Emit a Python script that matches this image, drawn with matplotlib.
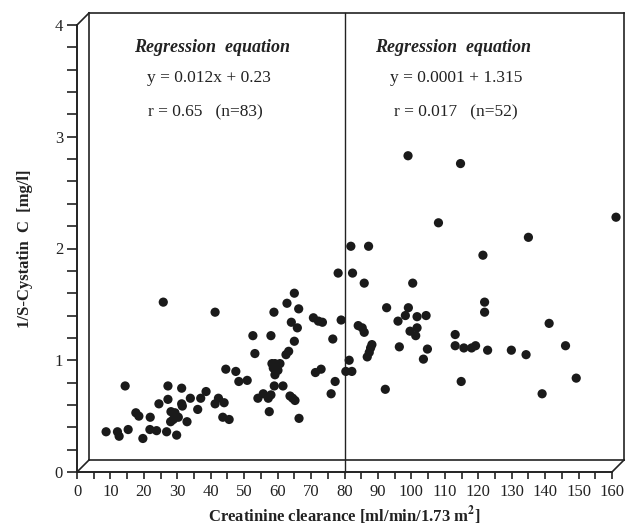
import matplotlib
matplotlib.use("Agg")
import matplotlib.pyplot as plt
from matplotlib.ticker import MultipleLocator

plt.rcParams['font.family'] = ['Liberation Serif', 'DejaVu Serif']
plt.rcParams['mathtext.fontset'] = 'stix'

# Creatinine clearance (x) and 1/S-Cystatin C (y)
clearance = [
    8.7, 12.1, 12.6, 15.3, 19.7, 21.8, 23.8, 26.8, 29.8, 17.6, 18.5, 21.9, 24.5,
    27.2, 27.2, 31.3, 14.4, 25.8, 41.3, 28.1, 29.3, 30.3, 28.8, 28.0, 31.5, 31.3,
    32.9, 33.9, 36.1, 37.0, 38.6, 41.3, 42.3, 44.0, 43.6, 45.5, 44.5, 47.5, 48.4,
    50.9, 52.6, 53.2, 54.1, 55.7, 57.2, 58.0, 57.5, 59.0, 61.6, 58.0, 58.9, 59.2,
    59.7, 60.7, 58.7, 59.2, 60.1, 58.3, 62.5, 63.3, 65.0, 65.9, 64.1, 62.8, 65.0,
    66.3, 63.7, 64.5, 65.2, 66.4, 70.7, 72.2, 73.4, 76.5, 79.0, 73.0, 71.3, 77.2,
    76.0, 78.1,
    80.4, 81.4, 82.2, 81.9, 87.2, 82.4, 85.9, 84.1, 85.3, 85.9, 88.2, 87.8, 87.4,
    86.8, 92.2, 92.6, 96.0, 96.4, 98.2, 99.1, 99.6, 101.7, 101.3, 101.7, 104.4,
    100.4, 99.0, 108.1, 104.8, 103.6, 113.1, 113.1, 115.7, 118.0, 119.2, 114.9,
    114.7, 121.4, 121.9, 121.9, 122.8, 129.9, 134.3, 135.0, 139.1, 141.2, 146.1,
    149.3, 161.2,
]
cystatin_inv = [
    0.36, 0.36, 0.32, 0.38, 0.30, 0.38, 0.37, 0.36, 0.33, 0.53, 0.50, 0.49, 0.61,
    0.65, 0.77, 0.75, 0.77, 1.52, 1.43, 0.54, 0.53, 0.49, 0.47, 0.45, 0.59, 0.61,
    0.45, 0.66, 0.56, 0.66, 0.72, 0.61, 0.66, 0.62, 0.49, 0.47, 0.92, 0.90, 0.81,
    0.82, 1.22, 1.06, 0.66, 0.70, 0.66, 0.69, 0.54, 0.77, 0.77, 1.22, 1.43, 0.97,
    0.94, 0.97, 0.93, 0.87, 0.91, 0.97, 1.05, 1.08, 1.17, 1.29, 1.34, 1.51, 1.60,
    1.46, 0.68, 0.66, 0.64, 0.48, 1.38, 1.35, 1.34, 1.19, 1.36, 0.92, 0.89, 0.81,
    0.70, 1.78,
    0.90, 1.00, 0.90, 2.02, 2.02, 1.78, 1.69, 1.31, 1.29, 1.25, 1.14, 1.11, 1.07,
    1.03, 0.74, 1.47, 1.35, 1.12, 1.40, 1.47, 1.26, 1.29, 1.22, 1.39, 1.40,
    1.69, 2.83, 2.23, 1.10, 1.01, 1.23, 1.13, 1.11, 1.11, 1.13, 0.81,
    2.76, 1.94, 1.52, 1.43, 1.09, 1.09, 1.05, 2.10, 0.70, 1.33, 1.13,
    0.84, 2.28,
]

x_ticks = list(range(0, 161, 10))
y_ticks = [0, 1, 2, 3, 4]
split_x = 80
left_title = "Regression  equation"
left_eq = "y = 0.012x + 0.23"
left_r = "r = 0.65   (n=83)"
right_title = "Regression  equation"
right_eq = "y = 0.0001 + 1.315"
right_r = "r = 0.017   (n=52)"

fig = plt.figure(figsize=(6.26, 5.31), dpi=100)
ax = fig.add_axes([77/626, 59/531, 535/626, 447/531])
ax.set_xlim(0, 160)
ax.set_ylim(0, 4)

lc = '#222222'
for s in ['top', 'right']:
    ax.spines[s].set_visible(False)
for s in ['left', 'bottom']:
    ax.spines[s].set_color(lc)
    ax.spines[s].set_linewidth(1.4)

# pseudo-3D frame
dx, dy = 12/3.344, 12/111.75
frame_kw = dict(color=lc, lw=1.2, clip_on=False, zorder=1)
ax.plot([dx, dx], [dy, 4 + dy], **frame_kw)
ax.plot([dx, 160 + dx], [4 + dy, 4 + dy], **frame_kw)
ax.plot([160 + dx, 160 + dx], [dy, 4 + dy], **frame_kw)
ax.plot([dx, 160 + dx], [dy, dy], **frame_kw)
ax.plot([0, dx], [0, dy], **frame_kw)
ax.plot([160, 160 + dx], [0, dy], **frame_kw)
ax.plot([0, dx], [4, 4 + dy], **frame_kw)

# split line
ax.plot([split_x, split_x], [0, 4 + dy], color=lc, lw=1.0, clip_on=False, zorder=1)

ax.scatter(clearance, cystatin_inv, s=44, color='#1a1a1a', edgecolors='none',
           clip_on=False, zorder=3)

ax.set_xticks(x_ticks)
ax.set_yticks(y_ticks)
ax.xaxis.set_minor_locator(MultipleLocator(5))
ax.yaxis.set_minor_locator(MultipleLocator(0.2))
ax.tick_params(axis='both', which='both', direction='out', color=lc, width=1.2,
               labelsize=12, labelcolor='#222222')
ax.tick_params(axis='x', which='both', length=5, pad=4)
ax.tick_params(axis='y', which='both', length=7, pad=3)

ax.set_xlabel("Creatinine clearance [ml/min/1.73 m$^\\mathbf{2}$]", fontsize=12,
              fontweight='bold', labelpad=3, color='#222222')
ax.set_ylabel("1/S-Cystatin  C  [mg/l]", fontsize=12, fontweight='bold',
              labelpad=16, color='#222222')

tc = '#222222'
ax.text(40.5, 3.8, left_title, ha='center', va='center', fontsize=13,
        fontweight='bold', fontstyle='italic', color=tc)
ax.text(39.5, 3.53, left_eq, ha='center', va='center', fontsize=12.5, color=tc)
ax.text(38.5, 3.22, left_r, ha='center', va='center', fontsize=12.5, color=tc)
ax.text(112.5, 3.8, right_title, ha='center', va='center', fontsize=13,
        fontweight='bold', fontstyle='italic', color=tc)
ax.text(113.3, 3.53, right_eq, ha='center', va='center', fontsize=12.5, color=tc)
ax.text(113.3, 3.22, right_r, ha='center', va='center', fontsize=12.5, color=tc)

fig.savefig("out.png", dpi=100)
